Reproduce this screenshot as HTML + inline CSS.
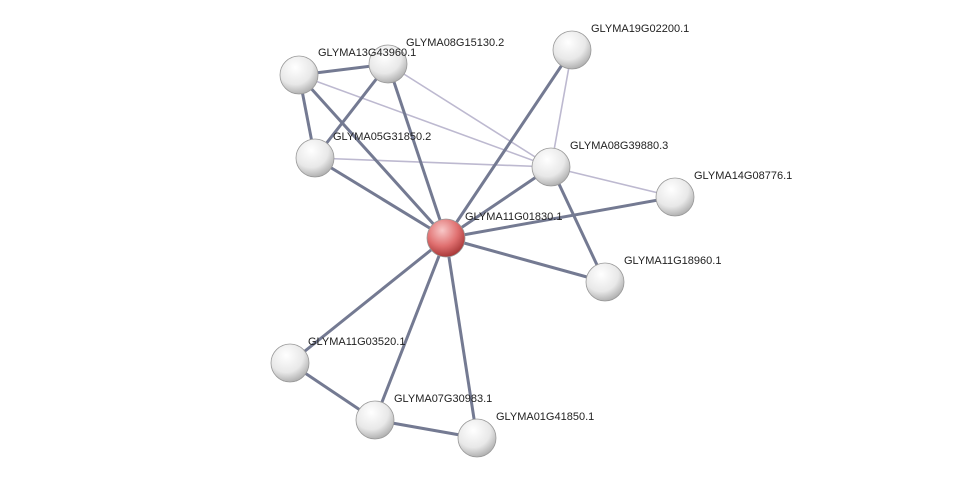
<!DOCTYPE html>
<html><head><style>
body{margin:0;background:#fff;}
svg text{font-family:"Liberation Sans",Arial,sans-serif;font-size:11px;fill:#222;}
</style></head><body>
<svg width="975" height="483" viewBox="0 0 975 483" xmlns="http://www.w3.org/2000/svg">
<defs>
<radialGradient id="g" cx="40%" cy="30%" r="75%">
<stop offset="0" stop-color="#ffffff"/><stop offset="0.6" stop-color="#e8e8e8"/><stop offset="1" stop-color="#a8a8a8"/>
</radialGradient>
<radialGradient id="r" cx="40%" cy="30%" r="75%">
<stop offset="0" stop-color="#f8c8c8"/><stop offset="0.55" stop-color="#e07070"/><stop offset="1" stop-color="#a03030"/>
</radialGradient>
</defs>
<g stroke="#bdb9d0" stroke-width="1.6">
<line x1="388" y1="64" x2="551" y2="167"/>
<line x1="299" y1="75" x2="551" y2="167"/>
<line x1="315" y1="158" x2="551" y2="167"/>
<line x1="572" y1="50" x2="551" y2="167"/>
<line x1="551" y1="167" x2="675" y2="197"/>
</g>
<g stroke="#747a92" stroke-width="3">
<line x1="446" y1="238" x2="299" y2="75"/>
<line x1="446" y1="238" x2="388" y2="64"/>
<line x1="446" y1="238" x2="572" y2="50"/>
<line x1="446" y1="238" x2="315" y2="158"/>
<line x1="446" y1="238" x2="551" y2="167"/>
<line x1="446" y1="238" x2="675" y2="197"/>
<line x1="446" y1="238" x2="605" y2="282"/>
<line x1="446" y1="238" x2="290" y2="363"/>
<line x1="446" y1="238" x2="375" y2="420"/>
<line x1="446" y1="238" x2="477" y2="438"/>
<line x1="299" y1="75" x2="388" y2="64"/>
<line x1="299" y1="75" x2="315" y2="158"/>
<line x1="315" y1="158" x2="388" y2="64"/>
<line x1="551" y1="167" x2="605" y2="282"/>
<line x1="290" y1="363" x2="375" y2="420"/>
<line x1="375" y1="420" x2="477" y2="438"/>
</g>
<g stroke="#999" stroke-width="0.8">
<circle cx="299" cy="75" r="19" fill="url(#g)"/>
<circle cx="388" cy="64" r="19" fill="url(#g)"/>
<circle cx="572" cy="50" r="19" fill="url(#g)"/>
<circle cx="315" cy="158" r="19" fill="url(#g)"/>
<circle cx="551" cy="167" r="19" fill="url(#g)"/>
<circle cx="675" cy="197" r="19" fill="url(#g)"/>
<circle cx="605" cy="282" r="19" fill="url(#g)"/>
<circle cx="290" cy="363" r="19" fill="url(#g)"/>
<circle cx="375" cy="420" r="19" fill="url(#g)"/>
<circle cx="477" cy="438" r="19" fill="url(#g)"/>
<circle cx="446" cy="238" r="19" fill="url(#r)"/>
</g>
<text x="318" y="56">GLYMA13G43960.1</text>
<text x="406" y="46">GLYMA08G15130.2</text>
<text x="591" y="32">GLYMA19G02200.1</text>
<text x="333" y="140">GLYMA05G31850.2</text>
<text x="570" y="149">GLYMA08G39880.3</text>
<text x="694" y="179">GLYMA14G08776.1</text>
<text x="465" y="220">GLYMA11G01830.1</text>
<text x="624" y="264">GLYMA11G18960.1</text>
<text x="308" y="345">GLYMA11G03520.1</text>
<text x="394" y="402">GLYMA07G30983.1</text>
<text x="496" y="420">GLYMA01G41850.1</text>
</svg>
</body></html>
